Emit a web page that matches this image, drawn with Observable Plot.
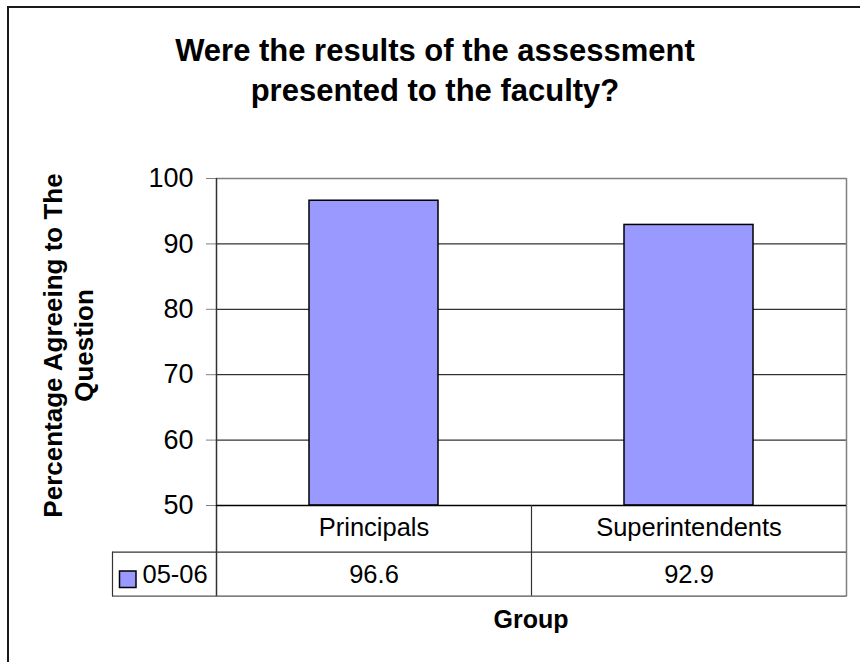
<!DOCTYPE html>
<html>
<head>
<meta charset="utf-8">
<script src="https://cdn.jsdelivr.net/npm/d3@7"></script>
<script src="https://cdn.jsdelivr.net/npm/@observablehq/plot@0.6"></script>
<style>
  html, body { margin: 0; padding: 0; background: #fff; }
  #chart { width: 860px; height: 662px; overflow: hidden; }
</style>
</head>
<body>
<div id="chart"></div>
<script>
// ---- data ----
const categories = ["Principals", "Superintendents"];
const values = [96.6, 92.9];
const seriesName = "05-06";
const yTicks = [50, 60, 70, 80, 90, 100];
const titleLines = ["Were the results of the assessment", "presented to the faculty?"];
const yTitleLines = ["Percentage Agreeing to The", "Question"];
const xTitle = "Group";

const data = categories.map((c, i) => ({group: c, value: values[i]}));
const yMin = yTicks[0], yMax = yTicks[yTicks.length - 1];

const FONT = "'Liberation Sans', Arial, Helvetica, sans-serif";
const BAR = "#9999FF";
const fmt = d3.format(".1f");

const plot = Plot.plot({
  width: 860,
  height: 662,
  marginLeft: 216,
  marginRight: 14,
  marginTop: 178,
  marginBottom: 157,
  style: {fontFamily: FONT, background: "#fff", color: "#000", overflow: "visible"},
  x: {domain: categories, paddingInner: 0.59, paddingOuter: 0.295, axis: null},
  y: {domain: [yMin, yMax], ticks: yTicks, label: null},
  marks: [
    Plot.ruleY(yTicks.filter(t => t > yMin && t < yMax), {stroke: "#000", strokeWidth: 1}),
    Plot.barY(data, {x: "group", y1: yMin, y2: "value", fill: BAR, stroke: "#000", strokeWidth: 1.5}),
    Plot.axisY({ticks: yTicks, tickSize: 10, tickPadding: 13, fontSize: 27, stroke: "#808080", fill: "#000", label: null}),
    Plot.text(data, {x: "group", frameAnchor: "bottom", lineAnchor: "middle", dy: 22, text: "group", fontSize: 25.5, fill: "#000"}),
    Plot.text(data, {x: "group", frameAnchor: "bottom", lineAnchor: "middle", dy: 69, text: d => fmt(d.value), fontSize: 25.5, fill: "#000"})
  ]
});

document.getElementById("chart").appendChild(plot);

// ---- decorations drawn from the plot's scales ----
const svg = d3.select(plot);
const xs = plot.scale("x");
const ys = plot.scale("y");
const step = xs.step, bw = xs.bandwidth;
const left = xs.range[0], right = xs.range[1];
const yTop = ys.apply(yMax), yBot = ys.apply(yMin);
const row1 = yBot + 46.7, row2 = yBot + 90.7;
const tableLeft = 112;

const g = svg.append("g").attr("fill", "none");
const line = (x1, y1, x2, y2, color, w) =>
  g.append("line").attr("x1", x1).attr("y1", y1).attr("x2", x2).attr("y2", y2)
   .attr("stroke", color).attr("stroke-width", w || 1);

// chart area border
g.append("path").attr("d", "M8,700V7H900").attr("stroke", "#1a1a1a").attr("stroke-width", 2);
// plot area border (top, right)
line(left, yTop + 0.5, right + 0.5, yTop + 0.5, "#808080", 1.5);
line(right + 0.5, yTop, right + 0.5, row2 + 0.5, "#808080", 1.5);
// value axis line
line(left + 0.5, yTop, left + 0.5, row2 + 0.5, "#333", 1.5);
// category axis line / table top
line(left, yBot + 0.5, right, yBot + 0.5, "#000", 1.5);
// table rows
line(tableLeft, row1 + 0.5, right, row1 + 0.5, "#333", 1.2);
line(tableLeft, row2 + 0.5, right + 0.5, row2 + 0.5, "#555", 1.2);
line(tableLeft + 0.5, row1, tableLeft + 0.5, row2 + 0.5, "#333", 1.2);
// dividers between categories
categories.slice(1).forEach(c => {
  const xd = Math.round(xs.apply(c) + bw / 2 - step / 2) + 0.5;
  line(xd, yBot, xd, row2, "#333", 1.2);
});

// legend key in table
svg.append("rect").attr("x", 119.5).attr("y", 571).attr("width", 16.5).attr("height", 16.5)
  .attr("fill", BAR).attr("stroke", "#000").attr("stroke-width", 1.5);
svg.append("text").attr("x", 142.5).attr("y", 583).attr("font-size", 25.5)
  .attr("text-anchor", "start")
  .attr("font-family", FONT).attr("fill", "#000").text(seriesName);

// title
const t = svg.append("text").attr("font-family", FONT).attr("font-weight", "bold")
  .attr("font-size", 31).attr("text-anchor", "middle").attr("fill", "#000");
titleLines.forEach((s, i) => t.append("tspan").attr("x", 435).attr("y", 61 + i * 39.5).text(s));

// y axis title
const yMid = (yTop + yBot) / 2 + 4;
yTitleLines.forEach((s, i) => {
  svg.append("text").attr("transform", `translate(${61.5 + i * 31.8},${yMid}) rotate(-90)`)
    .attr("font-family", FONT).attr("font-weight", "bold").attr("font-size", 26)
    .attr("text-anchor", "middle").attr("fill", "#000").text(s);
});

// x axis title
svg.append("text").attr("x", (left + right) / 2).attr("y", 627.7)
  .attr("font-family", FONT).attr("font-weight", "bold").attr("font-size", 25)
  .attr("text-anchor", "middle").attr("fill", "#000").text(xTitle);
</script>
</body>
</html>
